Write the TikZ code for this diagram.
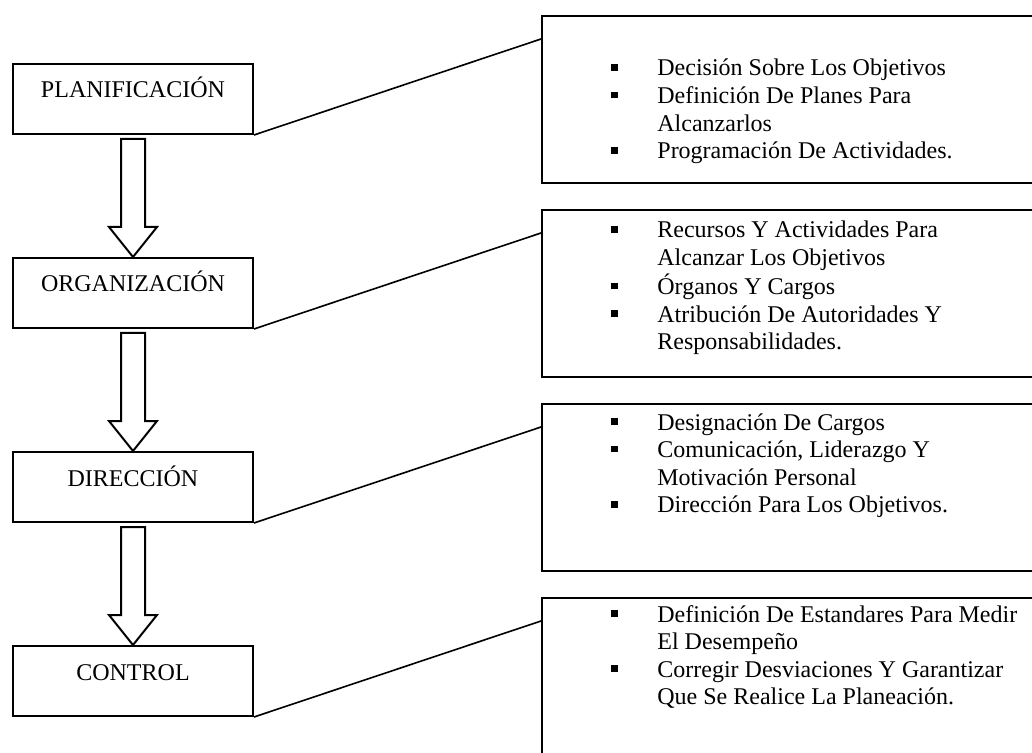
\documentclass[tikz,border=0pt]{standalone}
\usepackage{fontspec}
\setmainfont{Liberation Serif}
\usetikzlibrary{positioning,calc}
\newcommand{\itm}{\makebox[23pt][l]{\rule[2.6pt]{3.2pt}{3.3pt}}}
\newcommand{\cnt}{\hspace*{23pt}}
\newcommand{\lst}[1]{\begin{tabular}[t]{@{}l@{}}#1\end{tabular}}

\begin{document}
\begin{tikzpicture}[x=0.5pt, y=-0.5pt,
  stage/.style={draw, line width=1pt, minimum width=120pt, minimum height=35pt,
                inner sep=0pt, text width=120pt, align=center,
                text height=17pt, text depth=18pt},
  detail/.style={draw, line width=1pt, minimum width=260pt,
                 minimum height=83.5pt, inner sep=0pt},
  items/.style={inner sep=0pt, anchor=base west},
  hollow/.style={draw, line width=1pt, fill=white},
  link/.style={draw, line width=0.8pt},
  font={\fontsize{12}{13.8}\selectfont}, node distance=61pt]
  \useasboundingbox (0,0) rectangle (1032,753);
  \clip (0,0) rectangle (1032,753);
  % stages
  \node[stage, anchor=north west] (pl) at (12,63) {PLANIFICACIÓN};
  \node[stage, below=of pl] (org) {ORGANIZACIÓN};
  \node[stage, below=of org] (dir) {DIRECCIÓN};
  \node[stage, below=of dir] (ctl) {CONTROL};
  % block arrows
  \foreach \a/\b in {pl/org, org/dir, dir/ctl}
    \draw[hollow] ($(\a.south)+(-12,4)$) -- ($(\b.north)+(-12,-30)$)
      -- ++(-12,0) -- (\b.north) -- ++(24,-30) -- ++(-12,0)
      -- ($(\a.south)+(12,4)$) -- cycle;
  % boxes on the right
  \node[detail, anchor=north west] (d1) at (541,15) {};
  \node[detail, below=12.5pt of d1] (d2) {};
  \node[detail, below=12.5pt of d2] (d3) {};
  \node[detail, below=12.5pt of d3] (d4) {};
  \node[items] (t1) at ($(d1.north west)+(70,61)$)
    {\lst{\itm Decisión Sobre Los Objetivos\\
     \itm Definición De Planes Para\\
     \cnt Alcanzarlos\\
     \itm Programación De Actividades.}};
  \node[items] (t2) at ($(d2.north west)+(70,29)$)
    {\lst{\itm Recursos Y Actividades Para\\
     \cnt Alcanzar Los Objetivos\\
     \itm Órganos Y Cargos\\
     \itm Atribución De Autoridades Y\\
     \cnt Responsabilidades.}};
  \node[items] (t3) at ($(d3.north west)+(70,27)$)
    {\lst{\itm Designación De Cargos\\
     \itm Comunicación, Liderazgo Y\\
     \cnt Motivación Personal\\
     \itm Dirección Para Los Objetivos.}};
  \node[items] (t4) at ($(d4.north west)+(70,25)$)
    {\lst{\itm Definición De Estandares Para Medir\\
     \cnt El Desempeño\\
     \itm Corregir Desviaciones Y Garantizar\\
     \cnt Que Se Realice La Planeación.}};
  % links
  \foreach \s/\r in {pl/d1, org/d2, dir/d3, ctl/d4}
    \draw[link] (\s.south east) -- ($(\r.north west)+(0,24)$);
\end{tikzpicture}
\end{document}
